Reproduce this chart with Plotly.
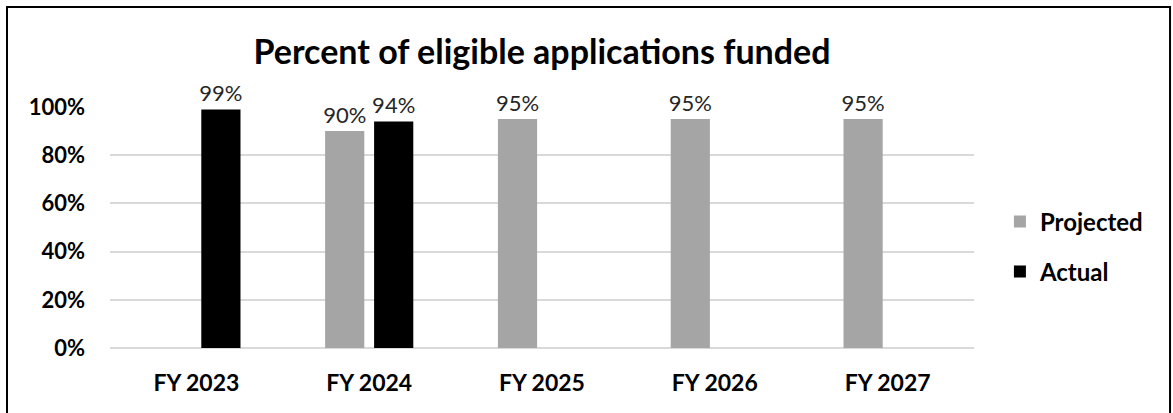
import plotly.graph_objects as go

# Data
years = ['FY 2023', 'FY 2024', 'FY 2025', 'FY 2026', 'FY 2027']
projected = [None, 0.90, 0.95, 0.95, 0.95]
actual = [0.99, 0.94, None, None, None]

FONT = 'Lato'
GREY = '#a5a5a5'


def pct_labels(values):
    '''Return data label text for a series'''
    return ['' if v is None else f'{round(v * 100)}%' for v in values]


traces = [
    go.Bar(x=years, y=projected, name='<b>Projected</b>', marker_color=GREY,
           text=pct_labels(projected), legendgroup='p'),
    go.Bar(x=years, y=actual, name='<b>Actual</b>', marker_color='black',
           text=pct_labels(actual), legendgroup='a'),
]

fig = go.Figure(traces)
fig.update_traces(textposition='outside', cliponaxis=False, constraintext='none',
                  textfont=dict(family=FONT, size=22, color='#262626'),
                  marker_line_width=0)

fig.update_layout(
    width=1173, height=413,
    margin=dict(l=110, r=199, t=107, b=65),
    paper_bgcolor='white', plot_bgcolor='white',
    barmode='group', bargap=0.433, bargroupgap=0.2,
    title=dict(text='<b>Percent of eligible applications funded</b>',
               x=0.5, xref='paper', xanchor='center',
               y=0.875, yanchor='middle',
               font=dict(family=FONT, size=34, color='black')),
    xaxis=dict(tickfont=dict(family=FONT, size=23, color='black'),
               tickvals=years, ticktext=[f'<b>{y}</b>' for y in years],
               ticks='outside', ticklen=14, tickcolor='rgba(0,0,0,0)',
               showgrid=False, showline=False),
    yaxis=dict(range=[0, 1], tickvals=[0, 0.2, 0.4, 0.6, 0.8, 1.0],
               ticktext=['<b>0%</b>', '<b>20%</b>', '<b>40%</b>', '<b>60%</b>',
                         '<b>80%</b>', '<b>100%</b>'],
               tickfont=dict(family=FONT, size=22, color='black'),
               gridcolor='#d9d9d9', gridwidth=2, zeroline=True,
               zerolinecolor='#d9d9d9', zerolinewidth=2,
               showline=False, ticklabelstandoff=24),
    legend=dict(x=1.03, y=0.42, xanchor='left', yanchor='middle',
                font=dict(family=FONT, size=24, color='black'),
                tracegroupgap=16, traceorder='grouped',
                itemclick=False),
    dragmode=False,
    shapes=[dict(type='rect', xref='paper', yref='paper',
                 x0=-0.1192, x1=1.2269, y0=-0.30, y1=1.415,
                 line=dict(color='black', width=2))],
)

fig.write_html('out.html', config={'displayModeBar': False},
               post_script="document.body.style.margin='0px';")
